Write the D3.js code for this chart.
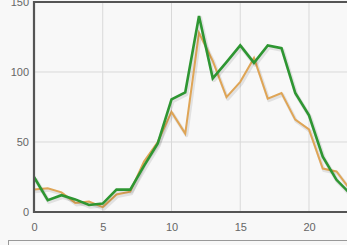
<!DOCTYPE html>
<html>
<head>
<meta charset="utf-8">
<script src="https://cdn.jsdelivr.net/npm/d3@7"></script>
<style>
  body { margin: 0; background: #f8f8f8; }
  svg { display: block; font-family: "DejaVu Sans", sans-serif; }
</style>
</head>
<body>
<svg id="chart" width="347" height="245"></svg>
<script>
// hours 0..23, two series
var hours = d3.range(0, 24);
var greenVals = [25, 8.5, 12, 9, 5, 6, 16, 16, 33, 49, 80.5, 85.5, 140, 95.5, 107, 119, 106.5, 119, 117, 85, 69, 39.5, 23, 13];
var orangeVals = [16, 17, 14, 6.5, 7.5, 3.5, 12.5, 14.5, 36, 50, 71.5, 56, 128, 108, 82, 93, 110, 81, 85, 66, 59, 31, 29, 16];
var xTicks = [0, 5, 10, 15, 20];
var yTicks = [0, 50, 100, 150];

var svg = d3.select("#chart");
var plotLeft = 34, plotTop = 2, plotBottom = 212;

var x = d3.scaleLinear().domain([0, 20]).range([plotLeft, 309]);
var y = d3.scaleLinear().domain([0, 150]).range([plotBottom, plotTop]);

svg.append("rect")
  .attr("width", 347).attr("height", 245)
  .attr("fill", "#f8f8f8");

//grid lines
var grid = svg.append("g");
xTicks.slice(1).forEach(function (t) {
  grid.append("line")
    .attr("x1", x(t)).attr("x2", x(t))
    .attr("y1", plotTop).attr("y2", plotBottom)
    .attr("stroke", "#d9d9d9").attr("stroke-width", 1);
});
yTicks.slice(1, 3).forEach(function (t) {
  grid.append("line")
    .attr("x1", plotLeft).attr("x2", 347)
    .attr("y1", y(t)).attr("y2", y(t))
    .attr("stroke", "#d9d9d9").attr("stroke-width", 1);
});

var line = d3.line()
  .x(function (d, i) { return x(hours[i]); })
  .y(function (d) { return y(d); });

var series = [[orangeVals, "#dfa556", 2], [greenVals, "#2e9632", 2.6]];
series.forEach(function (s) {
  // soft shadow like the original
  svg.append("path")
    .attr("d", line(s[0]))
    .attr("transform", "translate(1.2,1.8)")
    .attr("fill", "none")
    .attr("stroke", "rgba(0,0,0,0.09)")
    .attr("stroke-width", s[2] + 1.5)
    .attr("stroke-linejoin", "round");
  svg.append("path")
    .attr("d", line(s[0]))
    .attr("fill", "none")
    .attr("stroke", s[1])
    .attr("stroke-width", s[2])
    .attr("stroke-linejoin", "miter");
});

//plot frame
svg.append("path")
  .attr("d", "M347," + plotTop + "H" + plotLeft + "V" + plotBottom + "H347")
  .attr("fill", "none")
  .attr("stroke", "#555")
  .attr("stroke-width", 2.2);

//axes via d3 axis, only keep the labels
var xAxis = svg.append("g")
  .attr("transform", "translate(0," + (plotBottom + 1) + ")")
  .call(d3.axisBottom(x).tickValues(xTicks).tickSize(0).tickPadding(10));
var yAxis = svg.append("g")
  .attr("transform", "translate(" + (plotLeft - 1) + ",0)")
  .call(d3.axisLeft(y).tickValues(yTicks).tickSize(0).tickPadding(4));
[xAxis, yAxis].forEach(function (a) {
  a.select(".domain").remove();
  a.selectAll("text").attr("fill", "#666").style("font-size", "11px");
});

//legend box, mostly cut off
svg.append("rect")
  .attr("x", 8.5).attr("y", 240.5)
  .attr("width", 360).attr("height", 30)
  .attr("fill", "#f8f8f8")
  .attr("stroke", "#999");
</script>
</body>
</html>
